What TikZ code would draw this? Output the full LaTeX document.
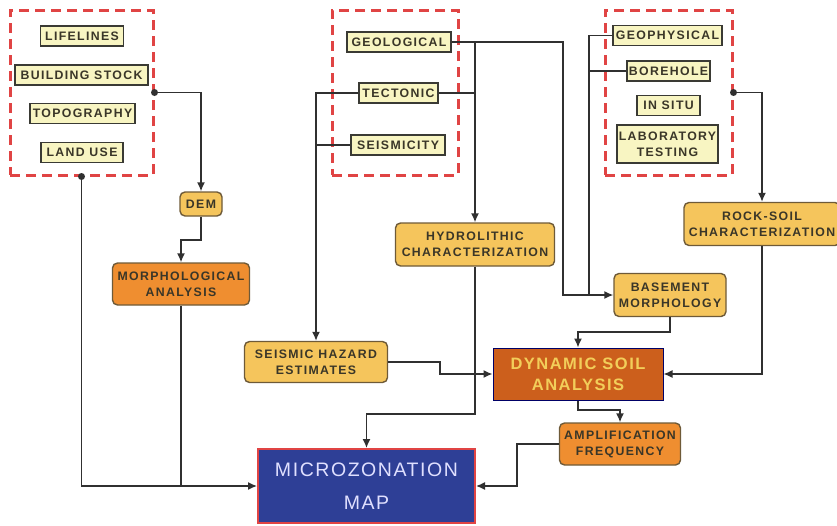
\documentclass[tikz,border=0pt]{standalone}
\usepackage{fontspec}
\setmainfont{Liberation Sans}
\usepackage{tikz}
\usetikzlibrary{arrows.meta}
\definecolor{dashred}{HTML}{E04444}
\definecolor{paleyellow}{HTML}{F8F5C2}
\definecolor{lightorange}{HTML}{F5C55C}
\definecolor{deeporange}{HTML}{EF8E30}
\definecolor{rust}{HTML}{CC5F1C}
\definecolor{mapblue}{HTML}{2E3F96}
\definecolor{boxline}{HTML}{3A3A34}
\definecolor{brownline}{HTML}{6E5A38}
\definecolor{inktext}{HTML}{3A3628}
\definecolor{lineink}{HTML}{303030}
\definecolor{paletext}{HTML}{F2CE5A}

\begin{document}
\begin{tikzpicture}[x=1pt,y=-1pt,
    every node/.style={font=\bfseries\fontsize{12.3}{16}\selectfont\addfontfeature{LetterSpace=11},
        text=inktext, align=center, inner sep=0pt},
    groupbox/.style={draw=dashred, line width=3pt, dash pattern=on 10pt off 6pt,
        minimum width=143pt, minimum height=165pt},
    databox/.style={draw=boxline, fill=paleyellow, line width=1.4pt, minimum height=20pt},
    stepbox/.style={draw=brownline, fill=lightorange, rounded corners=5pt, line width=1.4pt,
        minimum height=42pt},
    deepbox/.style={stepbox, fill=deeporange},
    link/.style={draw=lineink, line width=1.4pt},
    arrow/.style={link, -{Latex[length=9pt,width=8pt]}}]
    \useasboundingbox (0,0) rectangle (837,525);

    \node[groupbox] (sitebox) at (81.5,92.5) {};
    \node[groupbox, minimum width=126pt] (geobox) at (395,92.5) {};
    \node[groupbox, minimum width=127pt] (testbox) at (668.5,92.5) {};

    \node[databox, minimum width=83pt] (lifelines) at (82,36) {LIFELINES};
    \node[databox, minimum width=133pt] (building) at (81.5,75) {BUILDING STOCK};
    \node[databox, minimum width=105pt] (topo) at (82.5,113.5) {TOPOGRAPHY};
    \node[databox, minimum width=82pt] (landuse) at (82,152.5) {LAND USE};

    \node[databox, minimum width=104pt] (geo) at (399,42) {GEOLOGICAL};
    \node[databox, minimum width=79pt] (tect) at (398.5,93) {TECTONIC};
    \node[databox, minimum width=94pt] (seis) at (398,145) {SEISMICITY};

    \node[databox, minimum width=109pt] (geoph) at (667.5,35.5) {GEOPHYSICAL};
    \node[databox, minimum width=83pt] (bore) at (668.5,71) {BOREHOLE};
    \node[databox, minimum width=63pt] (insitu) at (668.5,105.5) {IN SITU};
    \node[databox, minimum width=101pt, minimum height=38pt] (lab) at (667.5,144) {LABORATORY\\TESTING};

    \node[stepbox, minimum width=42pt, minimum height=24pt] (dem) at (201,204) {DEM};
    \node[deepbox, minimum width=137pt] (morph) at (181,284) {MORPHOLOGICAL\\ANALYSIS};
    \node[stepbox, minimum width=159pt, minimum height=43pt] (hydro) at (475,244.5) {HYDROLITHIC\\CHARACTERIZATION};
    \node[stepbox, minimum width=143pt, minimum height=41pt] (shaz) at (316,362) {SEISMIC HAZARD\\ESTIMATES};
    \node[stepbox, minimum width=112pt, minimum height=43pt] (basement) at (670,295) {BASEMENT\\MORPHOLOGY};
    \node[stepbox, minimum width=156pt, minimum height=43pt] (rock) at (762,224) {ROCK-SOIL\\CHARACTERIZATION};
    \node[deepbox, minimum width=121pt] (amp) at (620,444) {AMPLIFICATION\\FREQUENCY};
    \node[draw=blue!40!black, line width=1pt, fill=rust, minimum width=170pt, minimum height=52pt,
        text=paletext, font=\bfseries\fontsize{16.5}{21}\selectfont\addfontfeature{LetterSpace=9}]
        (dyn) at (578,374) {DYNAMIC SOIL\\ANALYSIS};
    \node[draw=dashred, line width=2pt, fill=mapblue, minimum width=217pt, minimum height=74pt,
        text=white!88!blue, font=\fontsize{19.5}{33}\selectfont\addfontfeature{LetterSpace=8}]
        (micro) at (366.5,486) {MICROZONATION\\MAP};

    \coordinate (demturn) at (201,240);
    \coordinate (geoturn) at (563,42);
    \coordinate (geojoin) at (475,42);
    \coordinate (testjoin) at (589,295);
    \coordinate (bmturn) at (670,332);
    \coordinate (shturn) at (440,362);
    \coordinate (hyturn) at (475,414);
    \coordinate (dyturn) at (578,410);
    \coordinate (amturn) at (517,444);

    \draw[arrow] (sitebox.east) -| (dem.north);
    \draw[arrow] (dem.south) -- (demturn) -| (morph.north);
    \draw[arrow] (sitebox.south) |- (micro.west);
    \draw[link] (morph.south) -- (morph.south |- micro.west);
    \draw[arrow] (geo.east) -- (geoturn) |- (basement.west);
    \draw[arrow] (geojoin) -- (hydro.north);
    \draw[link] (tect.east) -- (tect.east -| geojoin);
    \draw[arrow] (tect.west) -| (shaz.north);
    \draw[link] (seis.west) -- (seis.west -| shaz.north);
    \draw[link] (geoph.west) -| (testjoin);
    \draw[link] (bore.west) -- (bore.west -| testjoin);
    \draw[arrow] (testbox.east) -| (rock.north);
    \draw[arrow] (rock.south) |- (dyn.east);
    \draw[arrow] (basement.south) -- (bmturn) -| (dyn.north);
    \draw[arrow] (shaz.east) -- (shturn) |- (dyn.west);
    \draw[arrow] (hydro.south) -- (hyturn) -| (micro.north);
    \draw[arrow] (dyn.south) -- (dyturn) -| (amp.north);
    \draw[arrow] (amp.west) -- (amturn) |- (micro.east);
    \fill[lineink] (sitebox.east) circle (3.5pt);
    \fill[lineink] (sitebox.south) circle (3.5pt);
    \fill[lineink] (testbox.east) circle (3.5pt);
\end{tikzpicture}
\end{document}
